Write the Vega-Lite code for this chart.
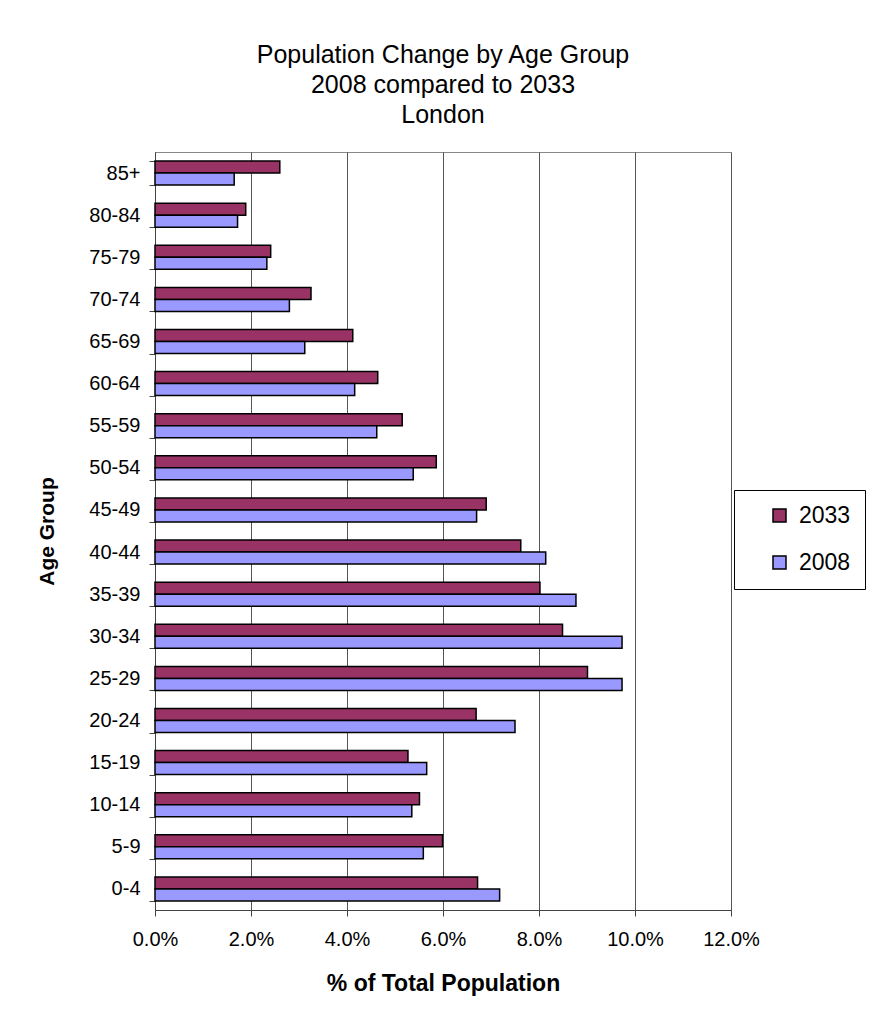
{
  "$schema": "https://vega.github.io/schema/vega-lite/v6.json",
  "width": 576,
  "height": 758,
  "autosize": {"type": "none"},
  "padding": {"left": 155, "top": 152, "right": 138, "bottom": 111},
  "background": "white",
  "title": {
    "text": ["Population Change by Age Group", "2008 compared to 2033", "London"],
    "fontSize": 25,
    "fontWeight": "normal",
    "anchor": "middle",
    "lineHeight": 30,
    "offset": 14,
    "color": "black"
  },
  "data": {
    "values": [
      {"age": "85+", "year": "2033", "pct": 2.60}, {"age": "85+", "year": "2008", "pct": 1.65},
      {"age": "80-84", "year": "2033", "pct": 1.89}, {"age": "80-84", "year": "2008", "pct": 1.72},
      {"age": "75-79", "year": "2033", "pct": 2.41}, {"age": "75-79", "year": "2008", "pct": 2.33},
      {"age": "70-74", "year": "2033", "pct": 3.25}, {"age": "70-74", "year": "2008", "pct": 2.80},
      {"age": "65-69", "year": "2033", "pct": 4.12}, {"age": "65-69", "year": "2008", "pct": 3.12},
      {"age": "60-64", "year": "2033", "pct": 4.64}, {"age": "60-64", "year": "2008", "pct": 4.16},
      {"age": "55-59", "year": "2033", "pct": 5.15}, {"age": "55-59", "year": "2008", "pct": 4.62},
      {"age": "50-54", "year": "2033", "pct": 5.86}, {"age": "50-54", "year": "2008", "pct": 5.38},
      {"age": "45-49", "year": "2033", "pct": 6.90}, {"age": "45-49", "year": "2008", "pct": 6.70},
      {"age": "40-44", "year": "2033", "pct": 7.62}, {"age": "40-44", "year": "2008", "pct": 8.14},
      {"age": "35-39", "year": "2033", "pct": 8.02}, {"age": "35-39", "year": "2008", "pct": 8.77},
      {"age": "30-34", "year": "2033", "pct": 8.49}, {"age": "30-34", "year": "2008", "pct": 9.73},
      {"age": "25-29", "year": "2033", "pct": 9.01}, {"age": "25-29", "year": "2008", "pct": 9.73},
      {"age": "20-24", "year": "2033", "pct": 6.69}, {"age": "20-24", "year": "2008", "pct": 7.50},
      {"age": "15-19", "year": "2033", "pct": 5.27}, {"age": "15-19", "year": "2008", "pct": 5.66},
      {"age": "10-14", "year": "2033", "pct": 5.51}, {"age": "10-14", "year": "2008", "pct": 5.35},
      {"age": "5-9", "year": "2033", "pct": 5.99}, {"age": "5-9", "year": "2008", "pct": 5.59},
      {"age": "0-4", "year": "2033", "pct": 6.72}, {"age": "0-4", "year": "2008", "pct": 7.18}
    ]
  },
  "mark": {"type": "bar", "stroke": "black", "strokeWidth": 1.5},
  "encoding": {
    "y": {
      "field": "age",
      "type": "nominal",
      "sort": ["85+", "80-84", "75-79", "70-74", "65-69", "60-64", "55-59", "50-54", "45-49", "40-44", "35-39", "30-34", "25-29", "20-24", "15-19", "10-14", "5-9", "0-4"],
      "scale": {"paddingInner": 0.43, "paddingOuter": 0.215},
      "axis": {
        "title": "Age Group",
        "titleFontSize": 21,
        "titleFontWeight": "bold",
        "titleColor": "black",
        "titlePadding": 31,
        "labelFontSize": 20,
        "labelColor": "black",
        "labelPadding": 9,
        "tickBand": "extent",
        "tickSize": 6,
        "tickColor": "#444",
        "domainColor": "#444",
        "grid": false
      }
    },
    "yOffset": {"field": "year", "type": "nominal", "sort": ["2033", "2008"]},
    "x": {
      "field": "pct",
      "type": "quantitative",
      "scale": {"domain": [0, 12]},
      "axis": {
        "values": [0, 2, 4, 6, 8, 10, 12],
        "labelExpr": "format(datum.value, '.1f') + '%'",
        "labelFlush": false,
        "labelOverlap": false,
        "title": "% of Total Population",
        "titleFontSize": 23,
        "titleFontWeight": "bold",
        "titleColor": "black",
        "titlePadding": 23,
        "labelFontSize": 20,
        "labelColor": "black",
        "labelPadding": 13,
        "tickSize": 6,
        "tickColor": "#444",
        "domainColor": "#444",
        "grid": true,
        "gridColor": "#555",
        "gridOpacity": 1
      }
    },
    "color": {
      "field": "year",
      "type": "nominal",
      "scale": {"domain": ["2033", "2008"], "range": ["#993366", "#9999FF"]},
      "legend": {
        "title": null,
        "orient": "none",
        "legendX": 579,
        "legendY": 338,
        "symbolType": "square",
        "symbolSize": 169,
        "symbolStrokeColor": "black",
        "symbolStrokeWidth": 1.5,
        "symbolOpacity": 1,
        "symbolOffset": 20,
        "labelFontSize": 23,
        "labelOffset": 8,
        "labelColor": "black",
        "rowPadding": 23,
        "padding": 14,
        "strokeColor": "black",
        "fillColor": "white"
      }
    }
  },
  "config": {
    "font": "Liberation Sans",
    "view": {"stroke": "#888", "strokeWidth": 1}
  }
}
